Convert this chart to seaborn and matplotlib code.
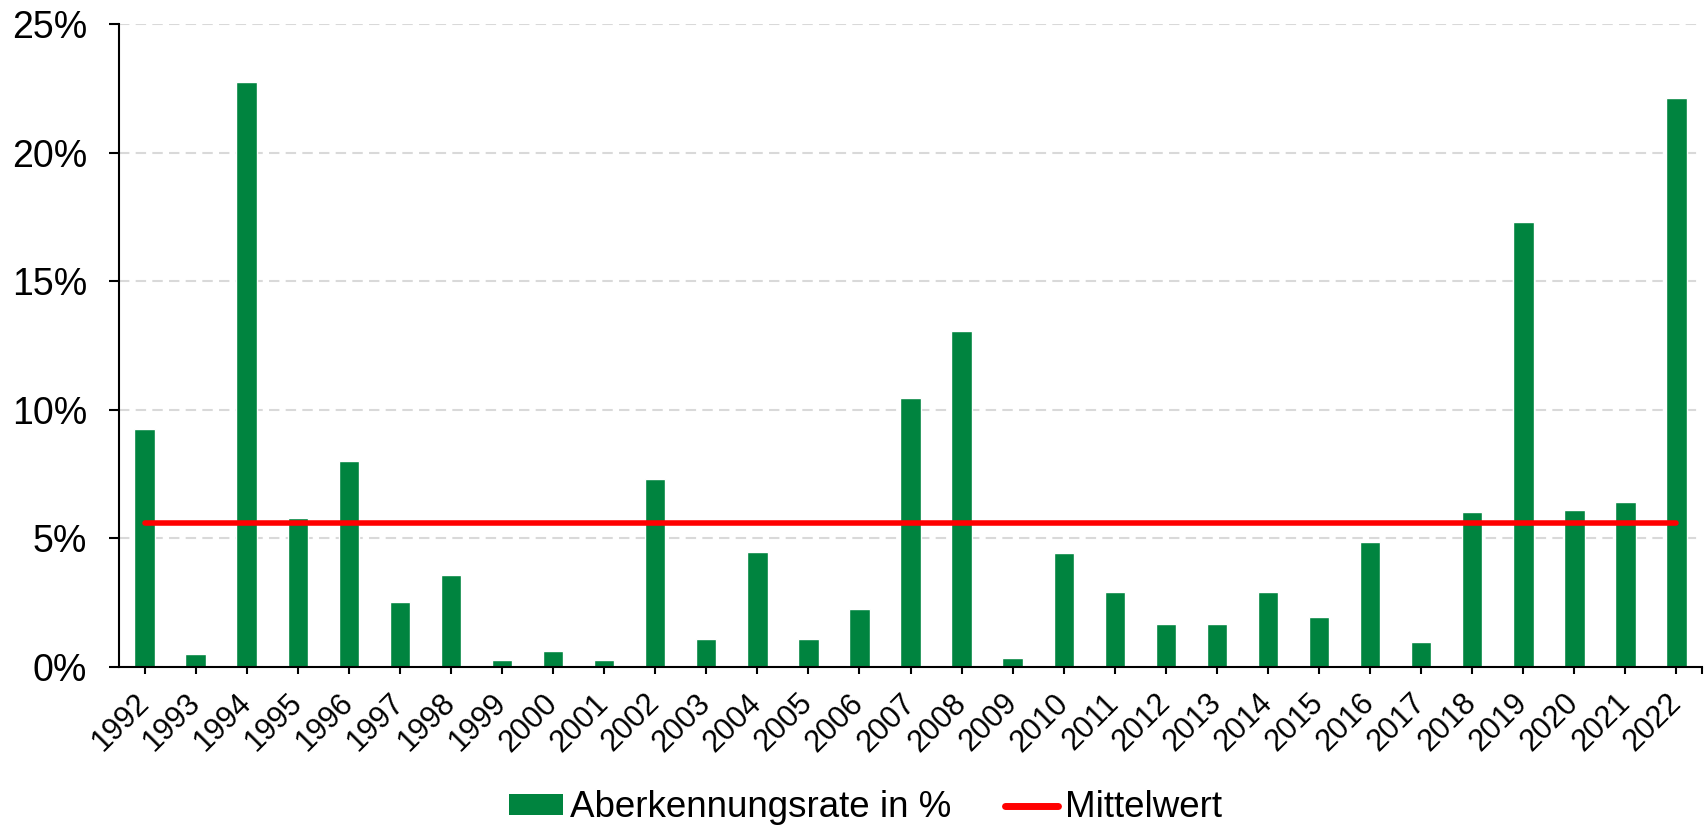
import numpy as np
import matplotlib
matplotlib.use("Agg")
import matplotlib.pyplot as plt
from matplotlib.ticker import FuncFormatter, FixedLocator
from matplotlib.patches import Patch
from matplotlib.lines import Line2D
import seaborn as sns

# Daten (Aberkennungsrate in %, 1992-2022)
years = [str(y) for y in range(1992, 2023)]
rates = [9.24, 0.50, 22.76, 5.78, 8.02, 2.51, 3.57, 0.26, 0.63, 0.26,
         7.31, 1.06, 4.45, 1.06, 2.26, 10.46, 13.08, 0.35, 4.42, 2.92,
         1.65, 1.65, 2.92, 1.93, 4.85, 0.97, 6.04, 17.31, 6.11, 6.42,
         22.15]
y_ticks = [0, 5, 10, 15, 20, 25]
bar_label = "Aberkennungsrate in %"
mean_label = "Mittelwert"

mean_rate = np.mean(rates)
green = "#00843F"
red = "#FF0000"

sns.set_style("white")
plt.rcParams['font.family'] = ['Liberation Sans', 'DejaVu Sans']
plt.rcParams['text.color'] = 'black'
plt.rcParams['xtick.color'] = 'black'
plt.rcParams['ytick.color'] = 'black'

fig = plt.figure(figsize=(17.08, 8.27), dpi=100)
ax = fig.add_axes([0.0697, 0.1938, 0.9268, 0.7768])

sns.barplot(x=years, y=rates, color=green, width=0.4, saturation=1, ax=ax)
sns.lineplot(x=years, y=[mean_rate] * len(years), color=red, linewidth=4,
             sort=False, ax=ax)

ax.set_xlim(-0.5, len(years) - 0.5)
ax.set_ylim(0, 25)
ax.yaxis.set_major_locator(FixedLocator(y_ticks))
ax.yaxis.set_major_formatter(FuncFormatter(lambda v, p: f"{v:.0f}%"))
ax.set_xlabel("")
ax.set_ylabel("")

# Gitterlinien
ax.set_axisbelow(True)
ax.yaxis.grid(True, color="#d9d9d9", linestyle=(0, (5, 3)), linewidth=1.5)
ax.xaxis.grid(False)

for s in ["top", "right"]:
    ax.spines[s].set_visible(False)
for s in ["left", "bottom"]:
    ax.spines[s].set_color("black")
    ax.spines[s].set_linewidth(1.5)

ax.xaxis.set_minor_locator(FixedLocator([len(years) - 0.5]))
ax.tick_params(axis="y", which="major", direction="out", length=7, width=1.5,
               labelsize=27, labelcolor="black", pad=16, left=True)
ax.tick_params(axis="x", which="both", direction="out", length=5, width=1.5,
               labelsize=22, labelcolor="black", pad=18, bottom=True)
plt.setp(ax.get_xticklabels(), rotation=45, ha="right", va="center",
         rotation_mode="anchor")

handles = [Patch(facecolor=green, edgecolor="none", label=bar_label),
           Line2D([], [], color=red, linewidth=5, label=mean_label)]
fig.legend(handles=handles, loc="center", bbox_to_anchor=(0.507, 0.023),
           ncol=2, frameon=False, fontsize=26.5, handlelength=1.45,
           handleheight=0.51, handletextpad=0.2, columnspacing=1.45,
           borderpad=0)

fig.savefig("out.png", dpi=100)
